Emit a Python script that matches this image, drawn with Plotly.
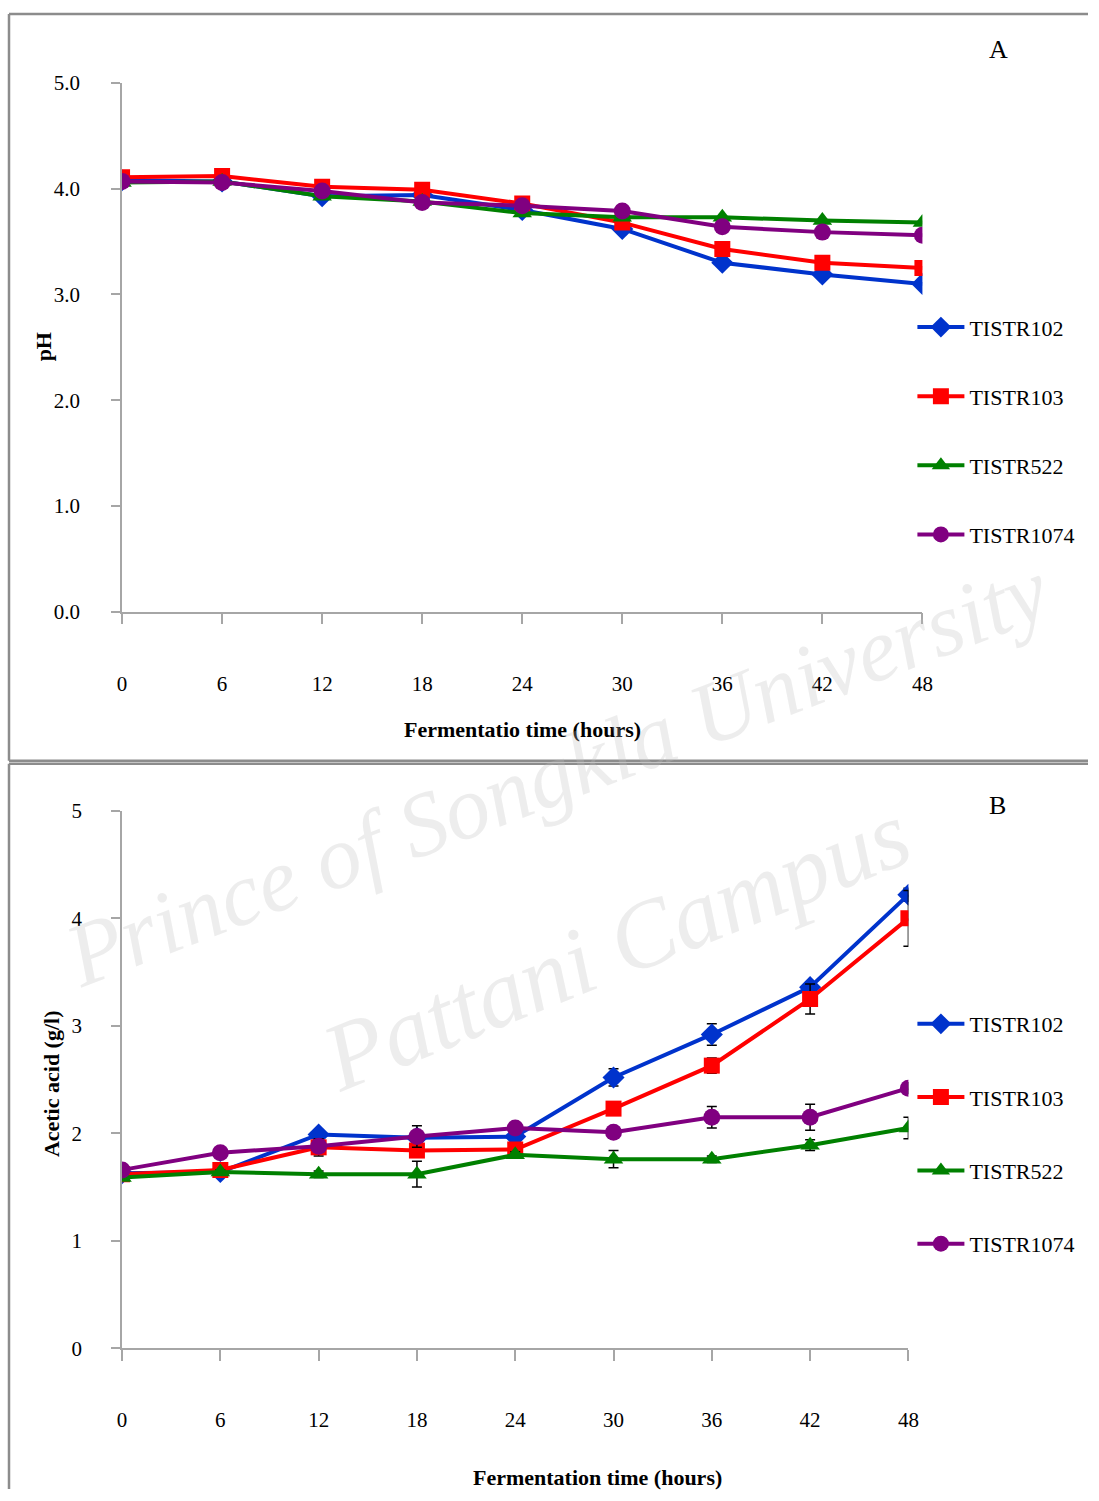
import plotly.graph_objects as go

hours = [0, 6, 12, 18, 24, 30, 36, 42, 48]
tick_labels = ["0", "6", "12", "18", "24", "30", "36", "42", "48"]
strains = ["TISTR102", "TISTR103", "TISTR522", "TISTR1074"]

ph_102 = [4.08, 4.07, 3.93, 3.94, 3.80, 3.62, 3.30, 3.19, 3.10]
ph_103 = [4.11, 4.12, 4.02, 3.99, 3.86, 3.68, 3.43, 3.30, 3.25]
ph_522 = [4.06, 4.07, 3.93, 3.88, 3.77, 3.73, 3.73, 3.70, 3.68]
ph_1074 = [4.07, 4.06, 3.98, 3.87, 3.84, 3.79, 3.64, 3.59, 3.56]

aa_102 = [1.63, 1.64, 1.99, 1.96, 1.97, 2.52, 2.92, 3.36, 4.22]
aa_103 = [1.62, 1.66, 1.87, 1.84, 1.85, 2.23, 2.63, 3.25, 4.00]
aa_522 = [1.59, 1.64, 1.62, 1.62, 1.80, 1.76, 1.76, 1.89, 2.05]
aa_1074 = [1.66, 1.82, 1.88, 1.97, 2.05, 2.01, 2.15, 2.15, 2.42]

err_102 = [0.02, 0.02, 0.03, 0.03, 0.03, 0.08, 0.10, 0.05, 0.06]
err_103 = [0.02, 0.02, 0.08, 0.04, 0.03, 0.05, 0.07, 0.14, 0.26]
err_522 = [0.02, 0.02, 0.03, 0.12, 0.03, 0.08, 0.03, 0.05, 0.10]
err_1074 = [0.02, 0.02, 0.03, 0.10, 0.03, 0.04, 0.10, 0.12, 0.05]

colors = ["#0033cc", "#ff0000", "#008000", "#800080"]
symbols = ["diamond", "square", "triangle-up", "circle"]
sizes = [17, 16, 17, 17]

W, H = 1099, 1501
# the captured picture is slightly inset/scaled; map target picture pixels to paper
SX, OX, SY, OY = 0.985, 4.0, 0.983, 12.0
def px(x):
    return min(max((x - OX) / SX / W, 0), 1)
def py(y):
    return min(max(1 - (y - OY) / SY / H, 0), 1)

FONT = "Liberation Serif"
fig = go.Figure()

ph_series = [ph_102, ph_103, ph_522, ph_1074]
aa_series = [aa_102, aa_103, aa_522, aa_1074]
err_series = [err_102, err_103, err_522, err_1074]

for i in range(4):
    fig.add_trace(go.Scatter(
        x=hours, y=ph_series[i], name=strains[i], mode="lines+markers",
        line=dict(color=colors[i], width=4),
        marker=dict(symbol=symbols[i], size=sizes[i], color=colors[i]),
        xaxis="x", yaxis="y", legend="legend", legendgroup="a" + str(i)))

for i in range(4):
    fig.add_trace(go.Scatter(
        x=hours, y=aa_series[i], name=strains[i], mode="lines+markers",
        line=dict(color=colors[i], width=4),
        marker=dict(symbol=symbols[i], size=sizes[i], color=colors[i]),
        error_y=dict(type="data", array=err_series[i], color="black", thickness=1.5, width=5),
        xaxis="x2", yaxis="y2", legend="legend2", legendgroup="b" + str(i)))

axis_common = dict(showgrid=False, zeroline=False, showline=True, linecolor="#a6a6a6",
                   linewidth=1.5, ticks="outside", tickcolor="#a6a6a6", tickwidth=1.5,
                   tickfont=dict(family=FONT, size=21, color="black"))

fig.update_layout(
    width=W, height=H, margin=dict(l=0, r=0, t=0, b=0),
    paper_bgcolor="white", plot_bgcolor="white",
    xaxis=dict(domain=[px(121), px(921)], range=[0, 48], anchor="y",
               tickvals=hours, ticktext=tick_labels, ticklen=11, ticklabelstandoff=41, **axis_common),
    yaxis=dict(domain=[py(611), py(83)], range=[0, 5], anchor="x",
               tickvals=[0, 1, 2, 3, 4, 5], ticktext=["0.0", "1.0", "2.0", "3.0", "4.0", "5.0"],
               ticklen=9, ticklabelstandoff=27, **axis_common),
    xaxis2=dict(domain=[px(121), px(907)], range=[0, 48], anchor="y2",
                tickvals=hours, ticktext=tick_labels, ticklen=11, ticklabelstandoff=41, **axis_common),
    yaxis2=dict(domain=[py(1347), py(810)], range=[0, 5], anchor="x2",
                tickvals=[0, 1, 2, 3, 4, 5], ticktext=["0", "1", "2", "3", "4", "5"],
                ticklen=9, ticklabelstandoff=25, **axis_common),
    legend=dict(x=px(911), y=py(306), xanchor="left", yanchor="top",
                font=dict(family=FONT, size=22, color="black"), bgcolor="rgba(0,0,0,0)",
                tracegroupgap=37.5, itemwidth=47),
    legend2=dict(x=px(911), y=py(1002), xanchor="left", yanchor="top",
                 font=dict(family=FONT, size=22, color="black"), bgcolor="rgba(0,0,0,0)",
                 tracegroupgap=41.7, itemwidth=47),
    showlegend=True,
)

bc = dict(color="#8c8c8c", width=2.5)
shapes = [
    dict(type="line", x0=px(8), x1=1, y0=py(14), y1=py(14), line=bc),
    dict(type="line", x0=px(8), x1=px(8), y0=py(14), y1=py(760), line=bc),
    dict(type="line", x0=px(8), x1=1, y0=py(760), y1=py(760), line=bc),
    dict(type="line", x0=px(8), x1=1, y0=py(763), y1=py(763), line=bc),
    dict(type="line", x0=px(8), x1=px(8), y0=py(763), y1=0, line=bc),
]
for s in shapes:
    s.update(xref="paper", yref="paper", layer="below")
fig.update_layout(shapes=shapes)

wm = "rgba(190,190,190,0.28)"
ann = [
    dict(text="A", x=px(997), y=py(49), font=dict(family=FONT, size=26)),
    dict(text="B", x=px(996), y=py(805), font=dict(family=FONT, size=26)),
    dict(text="<b>pH</b>", x=px(42), y=py(347), textangle=-90, font=dict(family=FONT, size=22)),
    dict(text="<b>Fermentatio time (hours)</b>", x=px(521), y=py(729), font=dict(family=FONT, size=22)),
    dict(text="<b>Acetic acid (g/l)</b>", x=px(50), y=py(1083), textangle=-90, font=dict(family=FONT, size=22)),
    dict(text="<b>Fermentation time (hours)</b>", x=px(596), y=py(1476), font=dict(family=FONT, size=22)),
    dict(text="<i>Prince of Songkla University</i>", x=px(555), y=py(772), textangle=-21,
         font=dict(family=FONT, size=90, color=wm)),
    dict(text="<i>Pattani Campus</i>", x=px(615), y=py(945), textangle=-22,
         font=dict(family=FONT, size=96, color=wm)),
]
for a in ann:
    a.update(xref="paper", yref="paper", showarrow=False, xanchor="center", yanchor="middle")
    a["font"].setdefault("color", "black")
fig.update_layout(annotations=ann)

fig.write_html("out.html")
